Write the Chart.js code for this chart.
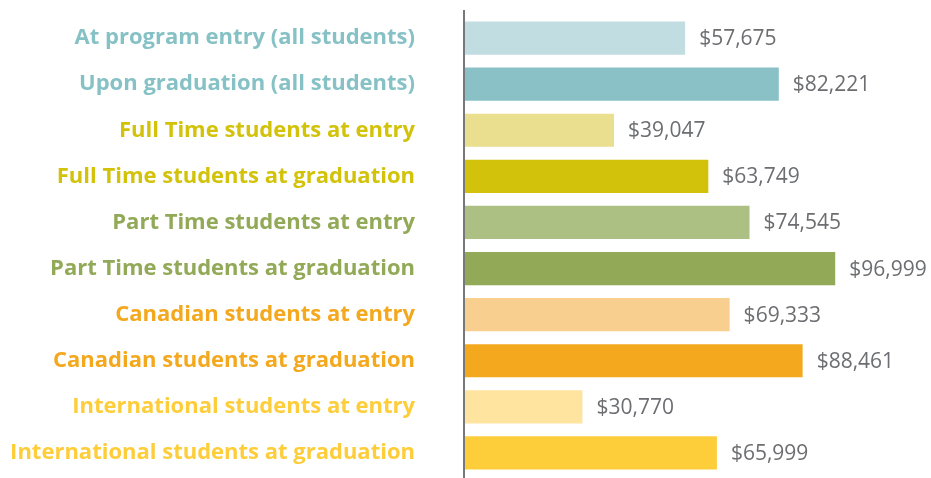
<!DOCTYPE html>
<html>
<head>
<meta charset="utf-8">
<script src="https://cdn.jsdelivr.net/npm/chart.js@4"></script>
<style>
  html, body { margin: 0; padding: 0; background: #ffffff; }
  #wrap { width: 931px; height: 478px; }
</style>
</head>
<body>
<div id="wrap"><canvas id="graficoSalarios"></canvas></div>
<script>
// categorias e valores (salario medio)
const categorias = [
    "At program entry (all students)",
    "Upon graduation (all students)",
    "Full Time students at entry",
    "Full Time students at graduation",
    "Part Time students at entry",
    "Part Time students at graduation",
    "Canadian students at entry",
    "Canadian students at graduation",
    "International students at entry",
    "International students at graduation"
];
const salarios = [57675, 82221, 39047, 63749, 74545, 96999, 69333, 88461, 30770, 65999];
const coresBarras = ["#c2dde1", "#8ac1c6", "#eadf8e", "#d2c20c", "#adc084", "#92a957", "#f9cf8f", "#f3a81e", "#fee49f", "#fecd3a"];
const coresRotulos = ["#86c1c6", "#86c1c6", "#d2c30a", "#d2c30a", "#92a957", "#92a957", "#f3a81e", "#f3a81e", "#fecd3a", "#fecd3a"];

// rotulos de valor ao lado das barras
const rotuloValores = {
    id: "rotuloValores",
    afterDatasetsDraw(chart) {
        const ctx = chart.ctx;
        const meta = chart.getDatasetMeta(0);
        ctx.save();
        ctx.font = "21px 'Open Sans', sans-serif";
        ctx.fillStyle = "#6d6e71";
        ctx.textAlign = "left";
        ctx.textBaseline = "middle";
        meta.data.forEach((barra, i) => {
            const texto = "$" + salarios[i].toLocaleString("en-US");
            ctx.fillText(texto, barra.x + 14, barra.y + 1);
        });
        ctx.restore();
    }
};

// linha vertical do eixo
const linhaEixo = {
    id: "linhaEixo",
    afterDraw(chart) {
        const ctx = chart.ctx;
        const x = chart.chartArea.left;
        ctx.save();
        ctx.strokeStyle = "#77787b";
        ctx.lineWidth = 2;
        ctx.beginPath();
        ctx.moveTo(x - 1, 10);
        ctx.lineTo(x - 1, 478);
        ctx.stroke();
        ctx.restore();
    }
};

const dados = {
    labels: categorias,
    datasets: [
        {
            data: salarios,
            backgroundColor: coresBarras,
            borderWidth: 0,
            barPercentage: 0.72,
            categoryPercentage: 1
        }
    ]
};

const config = {
    type: "bar",
    data: dados,
    options: {
        indexAxis: "y",
        responsive: true,
        maintainAspectRatio: false,
        animation: false,
        layout: { padding: { top: 15, bottom: 2, left: 0, right: 8 } },
        plugins: {
            legend: { display: false },
            tooltip: { enabled: false }
        },
        scales: {
            x: {
                display: false,
                min: 0,
                max: 120000
            },
            y: {
                grid: { display: false, drawTicks: false },
                border: { display: false },
                afterFit: (scale) => {
                    scale.width = 465;
                    // o padding dos ticks nao deve empurrar o topo/base
                    scale.paddingTop = 0;
                    scale.paddingBottom = 0;
                },
                ticks: {
                    padding: 50,
                    color: (c) => coresRotulos[c.index],
                    font: { family: "'Open Sans', sans-serif", size: 22, weight: "bold" }
                }
            }
        }
    },
    plugins: [rotuloValores, linhaEixo]
};

let grafico = new Chart(document.getElementById("graficoSalarios"), config);
</script>
</body>
</html>
